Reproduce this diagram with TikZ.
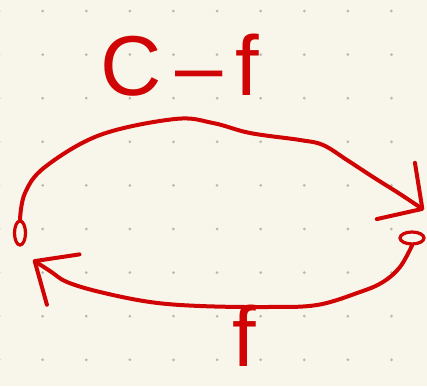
\documentclass[tikz,border=0pt]{standalone}
\usepackage{fontspec}
\setmainfont{Liberation Sans}
\usetikzlibrary{arrows.meta,shapes.geometric}
\definecolor{pen}{RGB}{208,4,4}
\definecolor{paper}{RGB}{248,246,234}
\definecolor{dotc}{RGB}{184,184,176}
\tikzset{
  stroke/.style={draw=pen, line width=4pt, line cap=round, line join=round},
  endpt/.style={ellipse, draw=pen, line width=3.2pt, inner sep=0pt},
  lbl/.style={text=pen, font=\fontsize{85}{90}\selectfont, inner sep=0pt, anchor=base},
}
\begin{document}
\begin{tikzpicture}[x=1pt,y=-1pt]
\fill[paper] (0,0) rectangle (427,386);
\useasboundingbox (0,0) rectangle (427,386);
\foreach \i in {0,...,9}{
  \foreach \j in {0,...,8}{
    \fill[dotc] ({-0.93+43.6*\i},{11+43.6*\j}) circle (1.5pt);
  }
}
\node[endpt, minimum width=11pt, minimum height=24pt] (L) at (20,233) {};
\node[endpt, minimum width=24pt, minimum height=12pt] (R) at (412,238) {};
\coordinate (tipR) at (424,210);
\coordinate (tipL) at (33,260);
\draw[stroke, -{Straight Barb[length=32pt,width=68pt,round]}]
  plot[smooth, tension=0.6] coordinates {(L.north) (25,193) (45,167) (100,135) (175,119) (213,123) (250,133) (300,140) (323,145) (347,160) (373,177) (400,194) (tipR)};
\draw[stroke, -{Straight Barb[length=34pt,width=60pt,round]}]
  plot[smooth, tension=0.6] coordinates {(R.south) (400,267) (383,282) (360,292) (317,305) (267,307) (200,306) (150,302) (100,292) (67,282) (50,271) (tipL)};
\node[lbl] (top) at (180,95) {C\kern13pt–\kern13pt f};
\node[lbl] (bot) at (244,366) {f};
\end{tikzpicture}
\end{document}
